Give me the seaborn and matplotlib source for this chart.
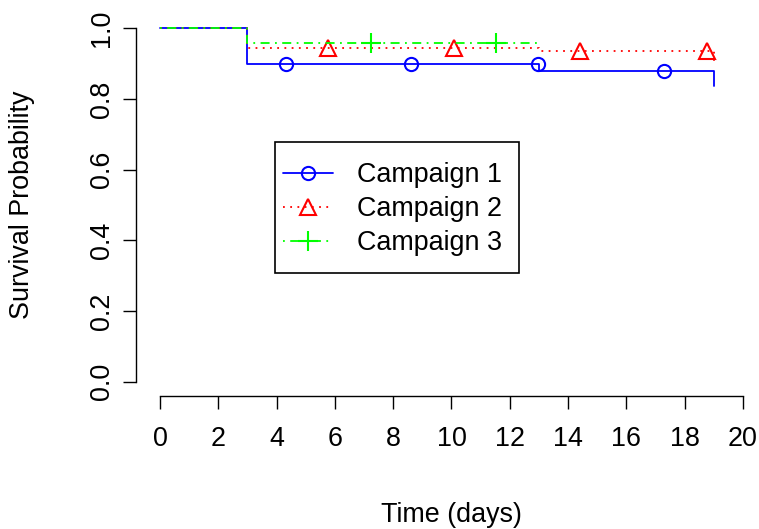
import numpy as np
import pandas as pd
import matplotlib
matplotlib.use("Agg")
import matplotlib.pyplot as plt
from matplotlib.lines import Line2D
from matplotlib.patches import Rectangle
import seaborn as sns

# Kaplan-Meier step values
c1_time = [0, 3, 13, 19]
c1_surv = [1.0, 0.90, 0.88, 0.836]
c2_time = [0, 3, 13, 19]
c2_surv = [1.0, 0.945, 0.934, 0.90]
c3_time = [0, 3, 13]
c3_surv = [1.0, 0.958, 0.958]

# marker (censor) times per campaign
c1_marks = [4.32, 8.61, 12.97, 17.3]
c2_marks = [5.76, 10.09, 14.4, 18.77]
c3_marks = [7.24, 11.53]

labels = ["Campaign 1", "Campaign 2", "Campaign 3"]
x_ticks = list(range(0, 21, 2))
y_ticks = [0.0, 0.2, 0.4, 0.6, 0.8, 1.0]

sns.set_style("ticks")
plt.rcParams["font.family"] = ["Liberation Sans", "DejaVu Sans"]
plt.rcParams["text.color"] = "black"
FS = 19.4

fig = plt.figure(figsize=(7.59, 5.29), dpi=100)
ax = fig.add_axes([136 / 759, 133 / 529, 623 / 759, 382 / 529])

styles = [
    dict(color="#0000FF", ls="-", marker="o", ms=9.5),
    dict(color="#FF0000", ls=(0, (1, 3)), marker="^", ms=12),
    dict(color="#00FF00", ls=(0, (1, 3, 5, 3)), marker="+", ms=14),
]
series = [(c1_time, c1_surv, c1_marks), (c2_time, c2_surv, c2_marks), (c3_time, c3_surv, c3_marks)]

handles = []
for (t, s, m), st, lab in zip(series, styles, labels):
    df = pd.DataFrame({"time": t, "surv": s})
    sns.lineplot(data=df, x="time", y="surv", drawstyle="steps-post", color=st["color"],
                 linestyle=st["ls"], lw=1.3, ax=ax, estimator=None, sort=True)
    # y of each marker = step value at that time
    idx = np.searchsorted(t, m, side="right") - 1
    my = [s[i] for i in idx]
    ax.plot(m, my, ls="none", marker=st["marker"], ms=st["ms"], mfc="none",
            mec=st["color"], mew=1.5)
    handles.append(Line2D([], [], color=st["color"], ls=st["ls"], lw=1.3, marker=st["marker"],
                          ms=st["ms"], mfc="none", mec=st["color"], mew=1.5))

ax.set_xlim(-0.823, 20.55)
ax.set_ylim(-0.04, 1.04)
ax.set_xticks(x_ticks)
ax.set_yticks(y_ticks)
ax.set_xticklabels([str(v) for v in x_ticks])
ax.set_yticklabels([f"{v:.1f}" for v in y_ticks], rotation=90, va="center")
ax.tick_params(axis="both", length=9.4, width=1.0, labelsize=FS, color="black", colors="black")
ax.tick_params(axis="x", pad=12)
ax.tick_params(axis="y", pad=5.5)
sns.despine(ax=ax)
ax.spines["bottom"].set_bounds(0, 20)
ax.spines["left"].set_bounds(0, 1)
for sp in ["bottom", "left"]:
    ax.spines[sp].set_color("black")
    ax.spines[sp].set_linewidth(1.0)

fig.text(451 / 759, 1 - 515 / 529, "Time (days)", ha="center", va="center", fontsize=FS,
         color="black")
fig.text(22 / 759, 1 - 205 / 529, "Survival Probability", ha="center", va="center",
         rotation=90, fontsize=FS, color="black")
ax.set_xlabel("")
ax.set_ylabel("")

leg = ax.legend(handles, labels, loc="upper left", bbox_to_anchor=(0.2167, 0.644),
                borderaxespad=0, fontsize=FS, frameon=False,
                handlelength=1.85, handletextpad=0.9, borderpad=0.45, labelspacing=0.295)
for txt in leg.get_texts():
    txt.set_color("black")
# R-style legend box
fig.patches.append(Rectangle((275 / 759, 1 - 273 / 529), 244 / 759, 131 / 529,
                             transform=fig.transFigure, fill=False, ec="black", lw=1.2,
                             zorder=5))

fig.savefig("out.png", dpi=100)
